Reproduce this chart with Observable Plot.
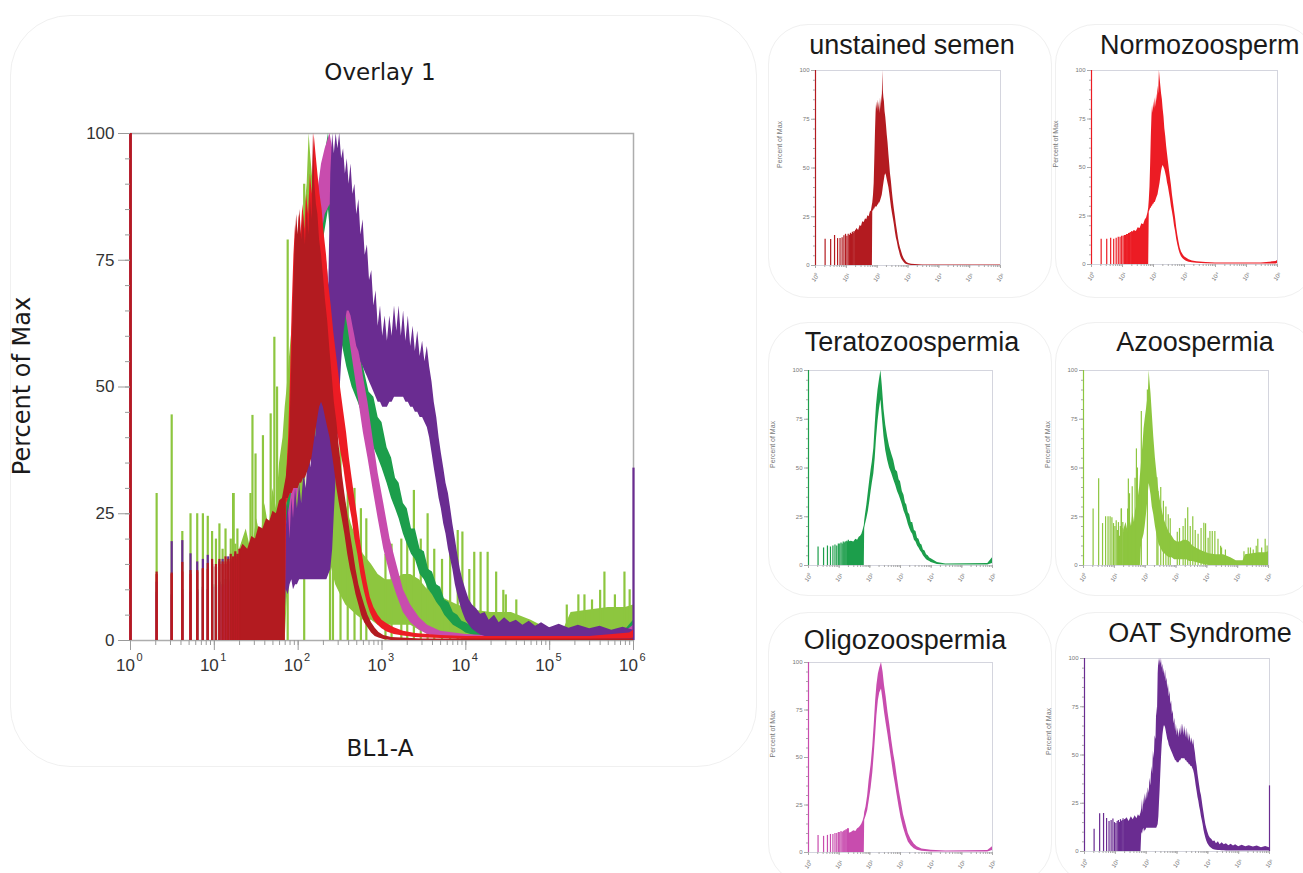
<!DOCTYPE html>
<html><head><meta charset="utf-8">
<script src="https://cdn.jsdelivr.net/npm/d3@7"></script>
<script src="https://cdn.jsdelivr.net/npm/@observablehq/plot@0.6"></script>
<style>
body{margin:0;background:#fff;}
#root{position:relative;width:1303px;height:873px;overflow:hidden;background:#fff;font-family:"Liberation Sans",Arial,sans-serif;}
.box{position:absolute;border:1.5px solid #f0f0f0;border-radius:50px;}
.txt{position:absolute;white-space:nowrap;color:#1a1a1a;line-height:1;}
svg{position:absolute;overflow:visible;}
</style></head><body><div id="root"></div>
<script>
// ---------- DATA ----------
const decades = [1, 10, 100, 1000, 10000, 100000, 1000000];
const decadeExp = ["0", "1", "2", "3", "4", "5", "6"];
const decadeSup = ["⁰", "¹", "²", "³", "⁴", "⁵", "⁶"];
const yMajor = [0, 25, 50, 75, 100];
const yMinor = [0, 5, 10, 15, 20, 25, 30, 35, 40, 45, 50, 55, 60, 65, 70, 75, 80, 85, 90, 95, 100];

// discrete low channels (spikes from 0)
const spikeX = [1, 2.05, 3.1, 4.15, 5.2, 6.25, 7.3, 8.35, 9.4, 10.45, 11.5, 12.55, 13.6, 14.65, 15.7, 16.75, 17.8, 18.85, 19.9];

const unstainedSpikes = [100, 13.5, 13.3, 15.4, 13.8, 13.8, 14.2, 15.2, 16, 15, 16, 15.5, 16.5, 16, 17, 16.5, 17.5, 17, 18];
const normoSpikes = [100, 13, 13, 13.5, 13, 13.5, 14, 14, 14.5, 14.5, 15, 15, 15.5, 15.5, 16, 16, 16.5, 16.5, 17];
const teratoSpikes = [100, 9.5, 9, 10, 9.5, 10, 10.5, 10, 11, 11, 11.5, 11, 12, 11.5, 12, 12, 12.5, 12, 13];
const azooSpikes = [100, 29, 44.5, 21.5, 25, 25, 25, 24.5, 21.5, 20, 23, 18, 22, 15, 20, 29, 19, 22, 17];
const oligoSpikes = [100, 9, 8.5, 9, 9.5, 9.5, 10, 10, 10.5, 10.5, 11, 10.5, 11, 11.5, 11.5, 12, 12, 12.5, 12.5];
const oatSpikes = [100, 11.5, 19.5, 19.7, 17.1, 15.5, 16, 16.8, 15, 14.5, 15.5, 16, 15, 16.5, 15.5, 16, 17, 16, 16.5];

// [channel, low edge, high edge] of each noisy histogram trace
const unstainedBand = [[20,0,17.5],[22,0,19],[25,0,18],[28,0,20.5],[31,0,20],[34,0,22.5],[38,0,22],[42,0,24],[46,0,23.5],[50,0,25.5],[55,0,25],[60,0,27.5],[65,0,28],[70,0,31],[72,28,32],[76,28,36],[80,29,42],[84,29,55],[88,30,68],[92,30,78],[96,30,84],[100,30,80],[105,31,85],[110,31,79],[116,32,84],[122,32,78],[128,33,86],[134,34,80],[140,35,88],[146,36,83],[152,38,100],[158,40,90],[165,42,86],[172,44,84],[180,46,79],[190,47,76],[200,46,72],[212,44,67],[225,42,63],[240,40,57],[255,37,52],[270,34,47],[290,30,43],[310,27,38],[335,24,33],[360,21,29],[390,17,25],[420,14,21],[450,12,18],[490,9,14],[530,7,11],[570,5,9],[620,3.5,7],[680,2.5,5],[750,1.5,3.5],[830,0.8,2.4],[920,0.5,1.6],[1050,0.2,1],[1300,0,0.6],[3000,0,0.3],[1000000,0,0.3]];
const normoBand = [[20,0,16],[24,0,17.5],[28,0,17],[32,0,19],[37,0,18.5],[42,0,21],[48,0,20.5],[54,0,23],[60,0,24],[66,0,26.5],[70,0,29],[73,27,33],[77,28,40],[81,29,52],[85,29,66],[89,30,76],[93,30,82],[98,31,78],[103,31,84],[108,32,80],[114,32,86],[120,33,81],[126,34,88],[133,35,84],[140,36,92],[147,38,88],[155,40,100],[163,42,96],[172,45,92],[182,48,88],[193,50,85],[205,51,80],[218,50,76],[232,49,70],[248,47,66],[265,45,61],[283,42,57],[303,40,53],[325,37,49],[350,34,45],[378,30,41],[408,27,36],[440,24,32],[475,20,28],[515,17,24],[560,13,19],[610,10,15],[665,7.5,11.5],[725,5.5,8.5],[800,4,6.5],[900,3,5],[1000,2.3,4],[1150,1.7,3.3],[1400,1.2,2.5],[1800,0.9,1.8],[2500,0.6,1.4],[5000,0.4,1],[10000,0.2,0.8],[300000,0.2,0.8],[900000,0.3,1.5],[1000000,0.5,2]];
const teratoBand = [[20,0,12],[25,0,12.5],[30,0,12],[35,0,13.5],[40,0,13],[45,0,14.5],[50,0,15],[55,0,16],[60,0,18],[66,0,20.5],[68,19,23],[72,21,26],[80,24,31],[90,28,38],[100,33,44],[110,38,49],[120,42,53],[135,47,60],[150,55,72],[165,65,82],[185,74,90],[205,80,95],[230,85,100],[255,76,92],[290,66,80],[330,59,72],[380,54,66],[440,50,61],[520,47,57],[600,44,54],[700,41,49],[800,38,48],[900,36,44],[1000,34,43],[1150,31,38],[1300,28,36],[1450,26,32],[1600,24,31],[1800,21,27],[2000,19,26],[2250,17,22],[2500,16,22],[2850,13,18],[3200,12,17.5],[3600,10,14],[4000,9,13.5],[4500,7.5,11],[5000,6.5,10.5],[5600,5,8],[6300,4,7.5],[7100,3,5.5],[8000,2.5,5],[9000,2,3.8],[10000,1.5,3.5],[16000,0.5,1.5],[30000,0.2,0.8],[700000,0.2,1],[1000000,1,4]];
const azooBand = [[20,0,18],[24,0,22],[28,0,17],[32,0,24],[36,0,20],[40,0,27],[45,0,22],[50,0,30],[55,0,26],[60,0,35],[66,0,40],[70,0,46],[74,8,50],[78,12,55],[85,14,62],[92,16,70],[100,20,75],[110,26,80],[120,32,85],[128,38,90],[135,42,100],[142,40,95],[155,36,88],[170,30,78],[190,26,66],[215,20,55],[245,15,46],[280,11,38],[320,9,32],[370,7,27],[430,6,23],[500,5,20],[600,4,17],[750,4,15],[900,3,13],[1100,3,12],[1400,3,12],[1800,3,13],[2200,3,13],[2800,2,12],[3500,2,10],[4500,1.5,9],[6000,1,8],[8000,0.5,7],[12000,0,6],[20000,0,5.5],[35000,0,5.5],[60000,0,4],[90000,0,2.5],[150000,0,2.5],[180000,0,5.5],[300000,0,6],[500000,0,6.5],[800000,0,6.5],[1000000,0,7]];
const oligoBand = [[20,0,10],[25,0,10.5],[30,0,11.5],[35,0,11],[40,0,12.5],[45,0,13],[50,0,14],[55,0,15],[60,0,16.5],[66,0,19],[68,17,21],[75,19,24],[85,22,30],[95,27,38],[110,34,46],[125,42,56],[140,52,68],[155,62,80],[170,72,88],[190,80,94],[210,84,97],[240,86,100],[270,80,95],[300,74,88],[340,68,82],[390,62,74],[450,55,67],[520,48,59],[600,41,52],[680,36,47],[780,30,40],[900,24,33],[1050,18,27],[1250,13,20],[1500,9,15],[1800,5.5,10],[2200,3.5,7],[2800,2,4.5],[3500,1.2,3],[5000,0.6,1.8],[10000,0.3,1.2],[30000,0.2,0.8],[700000,0.3,1],[1000000,1,3]];
const oatBand = [[20,0,16],[24,0,17.5],[28,0,15.5],[33,0,18],[38,0,16.5],[44,0,18.5],[50,0,17],[56,0,19],[62,0,18],[68,0,20],[72,10,22],[76,9,27],[80,11,20],[84,12,28],[88,10,24],[93,11,30],[98,11,26],[104,12,31],[110,12,27],[117,12,33],[125,12,30],[133,12,38],[142,12,34],[152,12,44],[162,12,40],[172,12,52],[183,12,48],[195,12,60],[208,12,58],[220,12,75],[232,13,70],[245,14,92],[258,18,100],[270,25,96],[284,32,100],[298,40,97],[313,48,100],[330,55,95],[348,60,97],[366,63,92],[385,65,95],[405,65,90],[427,64,94],[450,62,88],[475,60,90],[500,58,84],[530,57,87],[560,55,80],[595,54,83],[630,53,76],[670,52,78],[710,51,71],[755,50,73],[800,49,66],[850,48,69],[900,47,62],[960,47,66],[1020,46,60],[1090,46,64],[1160,46,59],[1240,47,64],[1320,47,60],[1410,48,66],[1500,48,61],[1600,48,66],[1700,48,60],[1810,48,65],[1930,47,59],[2060,47,64],[2200,46,58],[2350,46,62],[2500,45,57],[2670,45,61],[2850,44,56],[3050,44,59],[3250,43,55],[3470,42,58],[3700,40,54],[3950,37,51],[4200,34,47],[4500,31,44],[4800,28,40],[5100,26,37],[5450,23,34],[5800,21,31],[6200,18,29],[6600,16,26],[7000,14,23],[7500,11,20],[8000,9,17],[8600,7,14],[9200,5.5,12],[10000,4,10],[11000,3,8],[12000,2.2,7],[13500,1.6,6.2],[15000,1.1,5.2],[17000,0.8,5.5],[19000,0.6,4],[22000,0.5,5],[25000,0.5,3.5],[29000,0.4,4.5],[34000,0.4,3.5],[40000,0.3,4],[48000,0.3,3],[57000,0.3,3.8],[68000,0.3,2.8],[80000,0.3,3.5],[100000,0.2,2.5],[130000,0.2,3.2],[170000,0.2,2.4],[220000,0.2,3],[300000,0.2,2.3],[400000,0.2,2.8],[550000,0.2,2],[750000,0.2,2.6],[1000000,0.2,2]];

// isolated tall spikes [channel, height]
const unstainedExtra = [];
const normoExtra = [];
const teratoExtra = [];
const oligoExtra = [];
const azooExtra = [[17,29],[27,29],[28.5,44.4],[31,36.8],[38,40.4],[47,44.7],[52,59.8],[56,50],[75,79],[118,90],[240,45],[260,38],[320,40],[390,33],[470,30],[560,26],[650,24],[1100,17],[1300,19],[1700,20],[2000,24],[2400,29.6],[2900,20],[3500,25],[4200,18],[5200,16],[6500,19],[8000,21.7],[9100,21.4],[11000,14],[12600,17.4],[15000,17.4],[18200,17.4],[23000,13.5],[28000,9.9],[30000,9],[40000,8],[160000,7],[220000,9],[260000,9],[320000,8],[400000,9.9],[450000,13.5],[600000,9],[780000,13.5],[900000,10]];
const oatExtra = [[1000000,34]];

const names = ["unstained semen", "Normozoosperm", "Teratozoospermia", "Azoospermia", "Oligozoospermia", "OAT Syndrome"];
const colors = ["#b31b20", "#ec1c24", "#1c9e4b", "#8dc63f", "#c84cae", "#6a2c91"];

// ---------- BUILD ----------
const series = [
  {color: colors[0], spikes: unstainedSpikes, band: unstainedBand, extra: unstainedExtra},
  {color: colors[1], spikes: normoSpikes, band: normoBand, extra: normoExtra},
  {color: colors[2], spikes: teratoSpikes, band: teratoBand, extra: teratoExtra},
  {color: colors[3], spikes: azooSpikes, band: azooBand, extra: azooExtra},
  {color: colors[4], spikes: oligoSpikes, band: oligoBand, extra: oligoExtra},
  {color: colors[5], spikes: oatSpikes, band: oatBand, extra: oatExtra}
];
const root = document.getElementById("root");
const xMinor = d3.scaleLog().domain([1, 1e6]).ticks();

function seriesMarks(s, sw) {
  const sp = spikeX.map((x, i) => ({x, h: s.spikes[i]})).concat(s.extra.map(([x, h]) => ({x, h})));
  return [
    Plot.areaY(s.band, {x: d => d[0], y1: d => d[1], y2: d => d[2], fill: s.color}),
    Plot.ruleX(sp, {x: "x", y1: 0, y2: "h", stroke: s.color, strokeWidth: sw})
  ];
}
function addText(t, x, y, size, family, anchor, rot, color) {
  const d = document.createElement("div");
  d.className = "txt";
  d.textContent = t;
  d.style.fontSize = size + "px";
  d.style.fontFamily = family;
  if (color) d.style.color = color;
  d.style.left = x + "px"; d.style.top = y + "px";
  const tx = anchor === "start" ? "0" : "-50%";
  d.style.transformOrigin = "0 0";
  d.style.transform = rot ? `rotate(${rot}deg) translate(-50%,-50%)` : `translate(${tx},-50%)`;
  root.appendChild(d);
}
function addBox(l, t, w, h, r) {
  const b = document.createElement("div");
  b.className = "box";
  b.style.left = l + "px"; b.style.top = t + "px"; b.style.width = w + "px"; b.style.height = h + "px";
  b.style.borderRadius = r + "px";
  root.appendChild(b);
}

// rounded panel boxes
addBox(10, 15, 745, 750, 60);
addBox(768, 24, 282, 272, 40);
addBox(1055, 24, 260, 272, 40);
addBox(768, 322, 282, 272, 40);
addBox(1055, 322, 260, 272, 40);
addBox(768, 612, 282, 270, 40);
addBox(1055, 612, 260, 270, 40);

// ---------- main overlay ----------
const overlayOrder = [3, 2, 4, 5, 1, 0];
const main = Plot.plot({
  width: 760, height: 700,
  marginLeft: 130, marginRight: 127, marginTop: 133, marginBottom: 60,
  x: {type: "log", domain: [1, 1e6], axis: null},
  y: {domain: [0, 100], axis: null},
  style: {background: "none", fontFamily: "Liberation Sans, Arial, sans-serif"},
  marks: [
    Plot.frame({stroke: "#adadad", strokeWidth: 1.5}),
    ...overlayOrder.flatMap(i => seriesMarks(series[i], 2.2)),
    Plot.axisY(yMinor, {tickSize: 5, tickFormat: () => "", stroke: "#9a9a9a", label: null}),
    Plot.axisY(yMajor, {tickSize: 12, tickPadding: 4, fontSize: 17, stroke: "#9a9a9a", fill: "#333", label: null}),
    Plot.axisX(xMinor, {tickSize: 5, tickFormat: () => "", stroke: "#9a9a9a", label: null}),
    Plot.axisX(decades, {tickSize: 10, tickFormat: () => "", stroke: "#9a9a9a", label: null}),
    Plot.text(decades, {x: d => d, y: 0, dy: 25, dx: -5, text: () => "10", fontSize: 17, fill: "#333"}),
    Plot.text(decades, {x: d => d, y: 0, dy: 17, dx: 9, text: (d, i) => decadeExp[i], fontSize: 11, fill: "#333"})
  ]
});
main.style.left = "0px"; main.style.top = "0px";
root.appendChild(main);
addText("Overlay 1", 380, 72, 23, "DejaVu Sans");
addText("BL1-A", 380, 748, 23, "DejaVu Sans");
addText("Percent of Max", 22, 386, 24, "DejaVu Sans", "middle", -90);

// ---------- small panels ----------
const frames = [
  [815, 1000, 70, 265],
  [1091, 1277, 70, 264],
  [808, 992, 370, 565],
  [1083, 1268, 370, 565],
  [808, 992, 662, 852],
  [1084, 1269, 658, 851]
];
const titlePos = [[912, 45, "middle"], [1100, 45, "start"], [912, 342, "middle"], [1195, 342, "middle"], [905, 640, "middle"], [1200, 633, "middle"]];
frames.forEach(([l, r, t, b], i) => {
  const ml = 50, mr = 12, mt = 12, mb = 28;
  const svg = Plot.plot({
    width: (r - l) + ml + mr, height: (b - t) + mt + mb,
    marginLeft: ml, marginRight: mr, marginTop: mt, marginBottom: mb,
    x: {type: "log", domain: [1, 1e6], axis: null},
    y: {domain: [0, 100], axis: null},
    style: {background: "none", fontFamily: "Liberation Sans, Arial, sans-serif"},
    marks: [
      Plot.frame({stroke: "#d4d5de", strokeWidth: 1}),
      ...seriesMarks(series[i], 1.2),
      Plot.axisY(yMinor, {tickSize: 2, tickFormat: () => "", stroke: "#aaa", label: null}),
      Plot.axisY(yMajor, {tickSize: 4, tickPadding: 2, fontSize: 6, stroke: "#aaa", fill: "#777", label: null}),
      Plot.axisX(xMinor, {tickSize: 2, tickFormat: () => "", stroke: "#aaa", label: null}),
      Plot.axisX(decades, {tickSize: 3, tickFormat: () => "", stroke: "#aaa", label: null}),
      Plot.text(decades, {x: d => d, y: 0, dy: 12, text: (d, k) => "10" + decadeSup[k], fontSize: 6, rotate: -55, fill: "#777"}),
      Plot.text(["Percent of Max"], {frameAnchor: "left", dx: -36, rotate: -90, fontSize: 7, fill: "#777"})
    ]
  });
  svg.style.left = (l - ml) + "px"; svg.style.top = (t - mt) + "px";
  root.appendChild(svg);
  const [tx, ty, ta] = titlePos[i];
  addText(names[i], tx, ty, 27, "Liberation Sans, Arial, sans-serif", ta);
});
</script></body></html>
